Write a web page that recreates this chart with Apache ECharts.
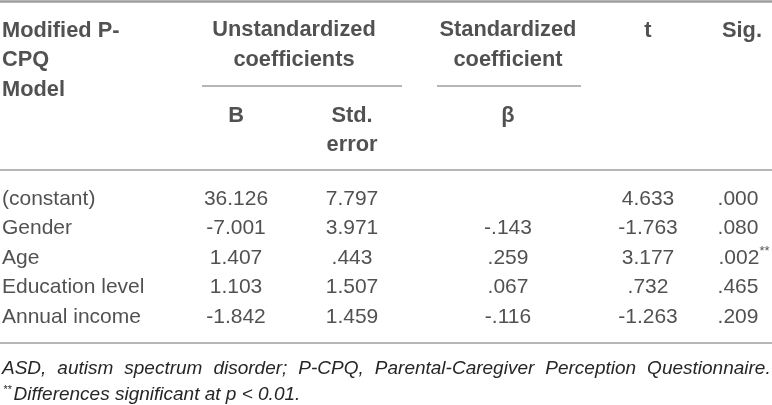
<!DOCTYPE html>
<html>
<head>
<meta charset="utf-8">
<script src="https://cdn.jsdelivr.net/npm/echarts@6/dist/echarts.min.js"></script>
<style>
	html, body { margin: 0; padding: 0; background: #fff; }
	#main { width: 772px; height: 405px; }
</style>
</head>
<body>
<div id="main"></div>
<script>
// table data
var rowLabels = ['(constant)', 'Gender', 'Age', 'Education level', 'Annual income'];
var bValues = [36.126, -7.001, 1.407, 1.103, -1.842];
var stdErrors = [7.797, 3.971, 0.443, 1.507, 1.459];
var betaValues = [null, -0.143, 0.259, 0.067, -0.116];
var tValues = [4.633, -1.763, 3.177, 0.732, -1.263];
var sigValues = [0.000, 0.080, 0.002, 0.465, 0.209];
var sigMarks = ['', '', '**', '', ''];

var modelHeader = 'Modified P-\nCPQ\nModel';
var groupHeaders = ['Unstandardized\ncoefficients', 'Standardized\ncoefficient'];
var subHeaders = ['B', 'Std.\nerror', 'β'];
var rightHeaders = ['t', 'Sig.'];
var footnotes = [
	'ASD, autism spectrum disorder; P-CPQ, Parental-Caregiver Perception Questionnaire.',
	'Differences significant at p < 0.01.'
];

var myChart = echarts.init(document.getElementById('main'));

var FONT = '"Liberation Sans", Arial, sans-serif';
var textColor = '#262626';
var ruleColor = '#9e9e9e';
var bodySize = 21, headSize = 21.8, noteSize = 19;

// column centres / row positions (in px units of the hidden axes)
var colLabel = 2, colB = 236, colSE = 352, colBeta = 508, colT = 648, colSig = 738;
var rowStart = 199, rowStep = 29.5;

function fmt(v) {
	if (v === null) return '';
	return v.toFixed(3).replace(/^(-?)0\./, '$1.');
}

function cell(x, y, text, align, bold, lh) {
	return {
		value: [x, y],
		label: {
			formatter: text,
			align: align || 'center',
			fontWeight: bold ? 'bold' : 'normal',
			fontSize: bold ? headSize : bodySize,
			lineHeight: lh || 26
		}
	};
}

var cells = [];
// header
cells.push(cell(colLabel, 60, modelHeader, 'left', true, 29.5));
cells.push(cell((colB + colSE) / 2, 45, groupHeaders[0], 'center', true, 29.5));
cells.push(cell(colBeta, 45, groupHeaders[1], 'center', true, 29.5));
cells.push(cell(colT, 30.5, rightHeaders[0], 'center', true));
cells.push(cell(colSig + 4, 30.5, rightHeaders[1], 'center', true));
cells.push(cell(colB, 115.5, subHeaders[0], 'center', true));
cells.push(cell(colSE, 130, subHeaders[1], 'center', true, 29));
cells.push(cell(colBeta, 115.5, subHeaders[2], 'center', true));

// body
rowLabels.forEach(function(name, i) {
	var y = rowStart + i * rowStep;
	cells.push(cell(colLabel, y, name, 'left'));
	cells.push(cell(colB, y, fmt(bValues[i]), 'center'));
	cells.push(cell(colSE, y, fmt(stdErrors[i]), 'center'));
	cells.push(cell(colBeta, y, fmt(betaValues[i]), 'center'));
	cells.push(cell(colT, y, fmt(tValues[i]), 'center'));
	var sig = fmt(sigValues[i]);
	if (sigMarks[i]) {
		cells.push(cell(colSig, y, '{p|}{n|' + sig + '}{s|' + sigMarks[i] + '}', 'center'));
	} else {
		cells.push(cell(colSig, y, sig, 'center'));
	}
});

var rules = [
	{ y: 1, x1: 0, x2: 772, w: 2.5 },
	{ y: 86, x1: 202, x2: 402, w: 1.5 },
	{ y: 86, x1: 437, x2: 581, w: 1.5 },
	{ y: 169.5, x1: 0, x2: 772, w: 1.5 },
	{ y: 343, x1: 0, x2: 772, w: 1.5 }
];

// first footnote is justified in the original: widen the word gaps
var noteWords = footnotes[0].split(' ');
var noteJustified = noteWords.map(function(w) { return '{w|' + w + '}'; }).join('{g|}');

var noteStyle = { fontFamily: FONT, fontStyle: 'italic', fontWeight: 'normal', fontSize: noteSize, color: textColor, lineHeight: 22 };

var option = {
	animation: false,
	backgroundColor: '#fff',
	title: [{
		text: noteJustified,
		left: 2,
		top: 358,
		padding: 0,
		textStyle: Object.assign({}, noteStyle, {
			rich: {
				w: noteStyle,
				g: { width: 11, lineHeight: 22 }
			}
		})
	}, {
		text: '{s|**}{t|' + footnotes[1] + '}',
		left: 3,
		top: 384,
		padding: 0,
		textStyle: Object.assign({}, noteStyle, {
			rich: {
				s: { fontSize: 11, fontStyle: 'italic', fontFamily: FONT, color: textColor, verticalAlign: 'top', lineHeight: 22, padding: [0, 2, 9, 0] },
				t: noteStyle
			}
		})
	}],
	grid: { left: 0, right: 0, top: 0, bottom: 0 },
	xAxis: { type: 'value', min: 0, max: 772, show: false },
	yAxis: { type: 'value', min: 0, max: 405, inverse: true, show: false },
	series: [{
		type: 'scatter',
		symbolSize: 0,
		silent: true,
		label: {
			show: true,
			position: [0, 0],
			verticalAlign: 'middle',
			fontFamily: FONT,
			fontSize: bodySize,
			color: textColor,
			rich: {
				p: { width: 12, fontSize: bodySize, fontFamily: FONT },
				n: { fontSize: bodySize, fontFamily: FONT, color: textColor },
				s: { fontSize: 13, fontFamily: FONT, color: textColor, verticalAlign: 'top', padding: [0, 0, 10, 0] }
			}
		},
		data: cells,
		markLine: {
			silent: true,
			symbol: 'none',
			label: { show: false },
			data: rules.map(function(r) {
				return [
					{ coord: [r.x1, r.y], lineStyle: { color: ruleColor, width: r.w, type: 'solid' } },
					{ coord: [r.x2, r.y] }
				];
			})
		}
	}]
};

myChart.setOption(option, true);
window.onresize = function() {
	myChart.resize();
};
</script>
</body>
</html>
